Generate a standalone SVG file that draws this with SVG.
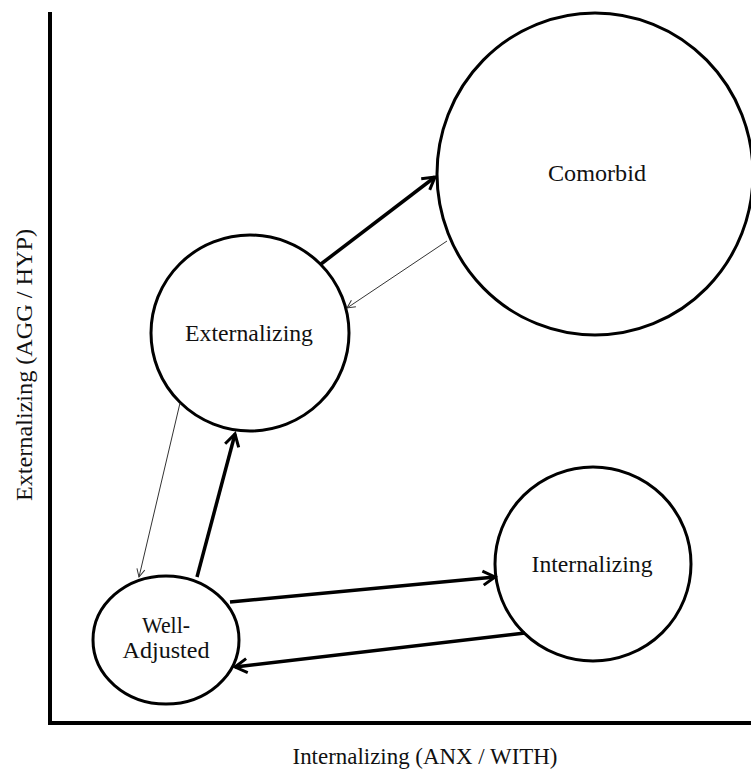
<svg xmlns="http://www.w3.org/2000/svg" width="751" height="771" viewBox="0 0 751 771">
<style>
.node{fill:#fff;stroke:#000;stroke-width:3}
.lbl{font-family:"Liberation Serif","Times New Roman",serif;font-size:23px;fill:#111;text-anchor:middle}
.thick{stroke:#000;stroke-width:3.5;fill:none}
.thin{stroke:#333;stroke-width:1;fill:none}
.axis{stroke:#000;stroke-width:4;fill:none}
</style>
<defs>
<marker id="ah" viewBox="0 0 16 16" refX="14" refY="8" markerWidth="16" markerHeight="16" markerUnits="userSpaceOnUse" orient="auto" overflow="visible">
<path d="M2,1 L14,8 L2,15" fill="none" stroke="#000" stroke-width="3"/>
</marker>
<marker id="at" viewBox="0 0 10 10" refX="9" refY="5" markerWidth="10" markerHeight="10" markerUnits="userSpaceOnUse" orient="auto" overflow="visible">
<path d="M1,1 L9,5 L1,9" fill="none" stroke="#333" stroke-width="1"/>
</marker>
</defs>
<rect width="751" height="771" fill="#fff"/>
<g id="axes">
<path class="axis" d="M50,12 L50,723 M48,723 L751,723"/>
<text class="lbl" x="425" y="764" textLength="265" lengthAdjust="spacingAndGlyphs">Internalizing (ANX / WITH)</text>
<text class="lbl" transform="translate(32,365) rotate(-90)" x="0" y="0" textLength="272" lengthAdjust="spacingAndGlyphs">Externalizing (AGG / HYP)</text>
</g>
<g id="comorbid">
<ellipse class="node" cx="595" cy="174" rx="158" ry="161"/>
<text class="lbl" x="597" y="181" textLength="98" lengthAdjust="spacingAndGlyphs">Comorbid</text>
</g>
<g id="externalizing">
<ellipse class="node" cx="250" cy="333" rx="99" ry="98"/>
<text class="lbl" x="249" y="341" textLength="128" lengthAdjust="spacingAndGlyphs">Externalizing</text>
</g>
<g id="internalizing">
<ellipse class="node" cx="593" cy="564" rx="98" ry="97"/>
<text class="lbl" x="592" y="572" textLength="121" lengthAdjust="spacingAndGlyphs">Internalizing</text>
</g>
<g id="well-adjusted">
<ellipse class="node" cx="166" cy="640" rx="73" ry="64"/>
<text class="lbl" x="166" y="633" textLength="48" lengthAdjust="spacingAndGlyphs">Well-</text>
<text class="lbl" x="166" y="658" textLength="87" lengthAdjust="spacingAndGlyphs">Adjusted</text>
</g>
<g id="connectors">
<line class="thick" x1="321" y1="264" x2="435" y2="177" marker-end="url(#ah)"/>
<line class="thin" x1="447" y1="241" x2="347" y2="308" marker-end="url(#at)"/>
<line class="thin" x1="180" y1="403" x2="139" y2="577" marker-end="url(#at)"/>
<line class="thick" x1="197" y1="577" x2="235" y2="434" marker-end="url(#ah)"/>
<line class="thick" x1="230" y1="602" x2="495" y2="577" marker-end="url(#ah)"/>
<line class="thick" x1="525" y1="633" x2="235" y2="667" marker-end="url(#ah)"/>
</g>
</svg>
